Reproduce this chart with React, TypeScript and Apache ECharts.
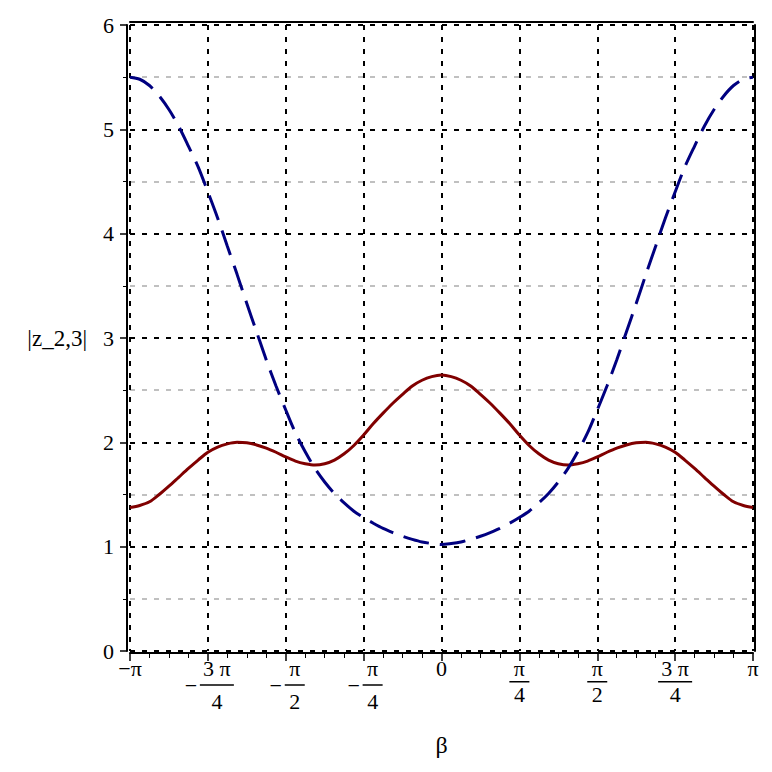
import React, { useEffect, useRef } from "react";
import * as echarts from "echarts";

// sample positions: beta = n * pi / 32
const betaThirtySeconds = [
  -32, -31, -30, -29, -28, -27, -26, -25, -24, -23, -22, -21, -20, -19, -18, -17,
  -16, -15, -14, -13, -12, -11, -10, -9, -8, -7, -6, -5, -4, -3, -2, -1, 0,
  1, 2, 3, 4, 5, 6, 7, 8, 9, 10, 11, 12, 13, 14, 15, 16,
  17, 18, 19, 20, 21, 22, 23, 24, 25, 26, 27, 28, 29, 30, 31, 32,
];

// solid dark red curve
const redValues = [
  1.375, 1.395, 1.43, 1.5, 1.58, 1.665, 1.75, 1.83, 1.905, 1.955, 1.985, 2.0,
  1.995, 1.975, 1.945, 1.905, 1.86, 1.82, 1.795, 1.782, 1.795, 1.83, 1.89, 1.97,
  2.07, 2.18, 2.28, 2.375, 2.46, 2.54, 2.595, 2.63, 2.645,
  2.63, 2.595, 2.54, 2.46, 2.375, 2.28, 2.18, 2.07, 1.97, 1.89, 1.83, 1.795,
  1.782, 1.795, 1.82, 1.86, 1.905, 1.945, 1.975, 1.995, 2.0, 1.985, 1.955, 1.905,
  1.83, 1.75, 1.665, 1.58, 1.5, 1.43, 1.395, 1.375,
];

// dashed navy curve
const blueValues = [
  5.5, 5.48, 5.42, 5.32, 5.19, 5.03, 4.84, 4.64, 4.4, 4.15, 3.88, 3.61, 3.33,
  3.06, 2.79, 2.54, 2.31, 2.09, 1.91, 1.75, 1.62, 1.51, 1.42, 1.34, 1.28, 1.225,
  1.175, 1.135, 1.1, 1.07, 1.045, 1.03, 1.02,
  1.03, 1.045, 1.07, 1.1, 1.135, 1.175, 1.225, 1.28, 1.34, 1.42, 1.51, 1.62,
  1.75, 1.91, 2.09, 2.31, 2.54, 2.79, 3.06, 3.33, 3.61, 3.88, 4.15, 4.4, 4.64,
  4.84, 5.03, 5.19, 5.32, 5.42, 5.48, 5.5,
];

// x tick labels at multiples of pi/4, from -pi to pi
const xTickSigns = ["", "−", "−", "−", "", "", "", "", ""];
const xTickNumerators = ["−π", "3 π", "π", "π", "0", "π", "π", "3 π", "π"];
const xTickDenominators = ["", "4", "2", "4", "", "4", "2", "4", ""];

const yAxisName = "|z_2,3|";
const xAxisName = "β";

export default function App() {
  const ref = useRef<HTMLDivElement>(null);

  useEffect(() => {
    const chart = echarts.init(ref.current!, null, { renderer: "svg" });
    const font = "'Liberation Serif', 'Times New Roman', serif";
    const betas = betaThirtySeconds.map((n) => (n * Math.PI) / 32);
    const red = betas.map((b, i) => [b, redValues[i]]);
    const blue = betas.map((b, i) => [b, blueValues[i]]);
    const q = Math.PI / 4;

    const xFormatter = (v: number) => {
      const i = Math.round(v / q) + 4;
      const num = xTickNumerators[i];
      const den = xTickDenominators[i];
      const sign = xTickSigns[i];
      if (num === undefined) return "";
      if (!den) return `{n|${num}}`;
      const bar = num.length > 1 ? "barW" : "barN";
      if (sign) {
        return `{pad|}{n|${num}}\n{s|${sign}}{${bar}|}\n{pad|}{d|${den}}`;
      }
      return `{n|${num}}\n{${bar}|}\n{d|${den}}`;
    };

    const dotted = { color: "#000", width: 2, type: [5, 7] as number[] };

    chart.setOption({
      animation: false,
      backgroundColor: "#fff",
      grid: { left: 130, right: 19, top: 25, bottom: 121, containLabel: false },
      xAxis: [
        {
          type: "value",
          min: -Math.PI,
          max: Math.PI,
          interval: q,
          position: "bottom",
          offset: 2,
          name: xAxisName,
          nameLocation: "middle",
          nameGap: 80,
          nameTextStyle: { fontFamily: font, fontSize: 24, color: "#000" },
          axisLine: { show: true, onZero: false, lineStyle: { color: "#000", width: 2 } },
          axisTick: { show: true, length: 8, lineStyle: { color: "#000", width: 1.5 } },
          minorTick: { show: true, splitNumber: 4, length: 5, lineStyle: { color: "#000", width: 1 } },
          splitLine: { show: true, lineStyle: dotted },
          axisLabel: {
            show: true,
            margin: 2,
            formatter: xFormatter,
            showMinLabel: true,
            showMaxLabel: true,
            color: "#000",
            rich: {
              n: { fontFamily: font, fontSize: 22, lineHeight: 26, color: "#000" },
              d: { fontFamily: font, fontSize: 22, lineHeight: 24, color: "#000" },
              s: { fontFamily: font, fontSize: 22, lineHeight: 8, width: 18, color: "#000" },
              pad: { width: 18, height: 1 },
              barW: { width: 34, height: 1.5, backgroundColor: "#000" },
              barN: { width: 20, height: 1.5, backgroundColor: "#000" },
            },
          },
        },
        {
          type: "value",
          min: -Math.PI,
          max: Math.PI,
          position: "top",
          offset: 3,
          axisLine: { show: true, onZero: false, lineStyle: { color: "#000", width: 2 } },
          axisTick: { show: false },
          axisLabel: { show: false },
          splitLine: { show: false },
        },
      ],
      yAxis: [
        {
          type: "value",
          min: 0,
          max: 6,
          interval: 1,
          position: "left",
          offset: 3,
          name: yAxisName,
          nameLocation: "middle",
          nameRotate: 0,
          nameGap: 40,
          nameTextStyle: { fontFamily: font, fontSize: 23, color: "#000", align: "right" },
          axisLine: { show: true, onZero: false, lineStyle: { color: "#000", width: 2 } },
          axisTick: { show: true, length: 7, lineStyle: { color: "#000", width: 1.5 } },
          minorTick: { show: true, splitNumber: 2, length: 4, lineStyle: { color: "#000", width: 1 } },
          splitLine: { show: true, lineStyle: dotted },
          minorSplitLine: { show: true, lineStyle: { color: "#c0c0c0", width: 2, type: [5, 7] } },
          axisLabel: { fontFamily: font, fontSize: 22, color: "#000", margin: 13 },
        },
        {
          type: "value",
          min: 0,
          max: 6,
          position: "right",
          offset: 2,
          axisLine: { show: true, onZero: false, lineStyle: { color: "#000", width: 2 } },
          axisTick: { show: false },
          axisLabel: { show: false },
          splitLine: { show: false },
        },
      ],
      series: [
        {
          type: "line",
          data: red,
          smooth: 0.3,
          showSymbol: false,
          lineStyle: { color: "#800000", width: 3 },
          z: 3,
        },
        {
          type: "line",
          data: blue,
          smooth: 0.3,
          showSymbol: false,
          lineStyle: { color: "#000080", width: 3, type: [26, 11] },
          z: 4,
        },
      ],
    });

    return () => chart.dispose();
  }, []);

  return (
    <div
      ref={ref}
      style={{ position: "fixed", left: 0, top: 0, width: 772, height: 772, background: "#fff" }}
    />
  );
}
